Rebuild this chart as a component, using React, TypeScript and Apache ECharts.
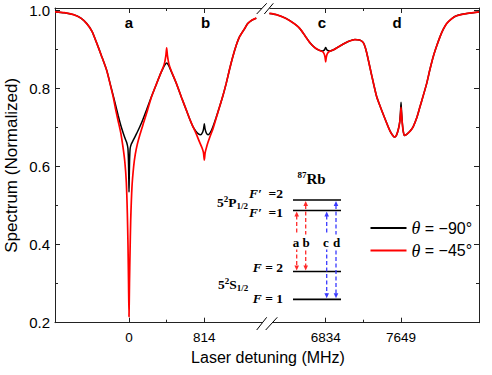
import { useEffect, useRef } from 'react';
import * as echarts from 'echarts';

// ---------- data (MHz, normalized spectrum) ----------
const blackLeft: [number, number][] = [
  [-800, 0.997], [-700, 0.995], [-600, 0.99], [-520, 0.981], [-457, 0.967], [-400, 0.947],
  [-349, 0.917], [-300, 0.886], [-241, 0.847], [-190, 0.8], [-150, 0.763], [-118, 0.732],
  [-90, 0.707], [-62, 0.686], [-40, 0.671], [-25, 0.662], [-12, 0.648], [-6, 0.615],
  [-2, 0.565], [0, 0.535], [2, 0.565], [6, 0.615], [12, 0.646], [25, 0.658], [46, 0.668],
  [80, 0.684], [118, 0.703], [150, 0.721], [190, 0.746], [240, 0.778], [298, 0.813],
  [340, 0.838], [369, 0.853], [390, 0.862], [407, 0.866], [425, 0.861], [450, 0.848],
  [513, 0.813], [570, 0.776], [620, 0.745], [660, 0.72], [691, 0.703], [720, 0.692],
  [750, 0.684], [775, 0.682], [795, 0.688], [806, 0.697], [814, 0.71], [822, 0.697],
  [835, 0.687], [855, 0.682], [880, 0.688], [906, 0.702], [940, 0.725], [978, 0.753],
  [1015, 0.782], [1050, 0.813], [1085, 0.848], [1122, 0.882], [1160, 0.912], [1194, 0.933],
  [1247, 0.953], [1283, 0.967], [1330, 0.976], [1376, 0.981],
];
const redLeft: [number, number][] = [
  [-800, 0.997], [-700, 0.995], [-600, 0.99], [-520, 0.981], [-457, 0.967], [-400, 0.947],
  [-349, 0.917], [-300, 0.886], [-241, 0.847], [-200, 0.808], [-170, 0.778], [-147, 0.75],
  [-118, 0.718], [-90, 0.688], [-65, 0.65], [-45, 0.612], [-29, 0.56], [-18, 0.48],
  [-11, 0.4], [-5, 0.3], [0, 0.215], [5, 0.3], [11, 0.38], [18, 0.46], [32, 0.548],
  [50, 0.6], [68, 0.632], [90, 0.658], [120, 0.684], [161, 0.715], [200, 0.745],
  [240, 0.777], [298, 0.813], [340, 0.838], [369, 0.855], [385, 0.867], [398, 0.884],
  [407, 0.905], [416, 0.884], [430, 0.865], [450, 0.85], [513, 0.813], [570, 0.776],
  [620, 0.745], [660, 0.72], [691, 0.703], [720, 0.688], [763, 0.663], [790, 0.648],
  [805, 0.636], [814, 0.617], [823, 0.636], [838, 0.65], [853, 0.662], [880, 0.68],
  [907, 0.697], [940, 0.723], [978, 0.753], [1015, 0.782], [1050, 0.813], [1085, 0.848],
  [1122, 0.882], [1160, 0.912], [1194, 0.933], [1247, 0.953], [1283, 0.967], [1330, 0.976],
  [1376, 0.981],
];
const blackRight: [number, number][] = [
  [6226, 0.993], [6300, 0.99], [6400, 0.981], [6500, 0.966], [6556, 0.954], [6610, 0.936],
  [6664, 0.918], [6718, 0.905], [6760, 0.899], [6800, 0.897], [6818, 0.899], [6828, 0.903],
  [6834, 0.906], [6840, 0.903], [6850, 0.899], [6880, 0.897], [6920, 0.9], [6970, 0.907],
  [7020, 0.914], [7078, 0.921], [7150, 0.926], [7200, 0.925], [7230, 0.921], [7250, 0.914],
  [7277, 0.893], [7331, 0.835], [7385, 0.78], [7439, 0.745], [7497, 0.71], [7529, 0.692],
  [7560, 0.68], [7580, 0.676], [7600, 0.681], [7620, 0.696], [7635, 0.716], [7643, 0.74],
  [7649, 0.765], [7655, 0.74], [7663, 0.712], [7672, 0.692], [7685, 0.68], [7710, 0.683],
  [7750, 0.692], [7781, 0.703], [7820, 0.726], [7853, 0.753], [7890, 0.783], [7926, 0.813],
  [7960, 0.848], [7997, 0.882], [8035, 0.91], [8070, 0.933], [8105, 0.952], [8142, 0.967],
  [8200, 0.98], [8250, 0.987], [8340, 0.992], [8430, 0.995], [8492, 0.997],
];
const redRight: [number, number][] = [
  [6226, 0.993], [6300, 0.99], [6400, 0.981], [6500, 0.966], [6556, 0.954], [6610, 0.936],
  [6664, 0.918], [6718, 0.905], [6760, 0.899], [6800, 0.895], [6818, 0.889], [6828, 0.88],
  [6834, 0.869], [6840, 0.88], [6850, 0.889], [6870, 0.895], [6920, 0.9], [6970, 0.907],
  [7020, 0.914], [7078, 0.921], [7150, 0.926], [7200, 0.925], [7230, 0.921], [7250, 0.914],
  [7277, 0.893], [7331, 0.835], [7385, 0.78], [7439, 0.745], [7497, 0.71], [7529, 0.692],
  [7560, 0.68], [7580, 0.676], [7600, 0.681], [7620, 0.696], [7635, 0.714], [7643, 0.733],
  [7649, 0.752], [7655, 0.733], [7663, 0.71], [7672, 0.692], [7685, 0.68], [7710, 0.683],
  [7750, 0.692], [7781, 0.703], [7820, 0.726], [7853, 0.753], [7890, 0.783], [7926, 0.813],
  [7960, 0.848], [7997, 0.882], [8035, 0.91], [8070, 0.933], [8105, 0.952], [8142, 0.967],
  [8200, 0.98], [8250, 0.987], [8340, 0.992], [8430, 0.995], [8492, 0.997],
];

const seriesNames = ['θ = −90°', 'θ = −45°'];
const leftMajorTicks = [0, 814];
const leftMinorTicks = [407];
const rightMajorTicks = [6834, 7649];
const rightMinorTicks = [7241.5];
const peakLabels = ['a', 'b', 'c', 'd'];
const transitionLabels = ['a', 'b', 'c', 'd'];

const SANS = '"Liberation Sans", Arial, Helvetica, sans-serif';
const SERIF = '"Liberation Serif", "Times New Roman", serif';
const AXIS_COLOR = '#222';

export default function App() {
  const ref = useRef<HTMLDivElement>(null);
  useEffect(() => {
    if (!ref.current) return;
    const chart = echarts.init(ref.current, undefined, { renderer: 'svg' });

    const top = 8;
    const bottom = 52.3;
    const yCommon = {
      type: 'value' as const,
      min: 0.2,
      max: 1.007,
      interval: 0.2,
      splitLine: { show: false },
      axisLine: { show: true, onZero: false, lineStyle: { color: AXIS_COLOR, width: 1 } },
      axisTick: { show: true, inside: true, length: 5, lineStyle: { color: AXIS_COLOR } },
      minorTick: { show: true, splitNumber: 2, length: 3, lineStyle: { color: AXIS_COLOR } },
    };
    const yLabelFmt = (v: number) =>
      Math.abs(v * 5 - Math.round(v * 5)) < 0.01 ? v.toFixed(1) : '';

    const xAxisBase = (gridIndex: number, position: 'top' | 'bottom', min: number, max: number,
      ticks: number[], length: number, labels: boolean, line: boolean) => ({
      type: 'value' as const,
      gridIndex,
      position,
      min,
      max,
      splitLine: { show: false },
      axisLine: { show: line, onZero: false, lineStyle: { color: AXIS_COLOR, width: 1 } },
      axisTick: { show: true, inside: true, length, customValues: ticks, lineStyle: { color: AXIS_COLOR } },
      axisLabel: labels
        ? { show: true, customValues: ticks, color: '#000', fontSize: 13.5, fontFamily: SANS, margin: 8, formatter: (v: number) => String(v) }
        : { show: false },
    });

    const L0 = -800, L1 = 1470, R0 = 6178, R1 = 8492;

    // Inset geometry
    const lvlX1 = 293, lvlX2 = 341;
    const yFp2 = 200, yFp1 = 210.5, yF2 = 271.5, yF1 = 299.3;
    const red = '#ff2a2a', blue = '#3a3aff';
    const arrows = [
      { x: 296.7, y1: yFp1, y2: yF2, c: red },
      { x: 305.7, y1: yFp2, y2: yF2, c: red },
      { x: 326.7, y1: yFp1, y2: yF1, c: blue },
      { x: 336, y1: yFp2, y2: yF1, c: blue },
    ];
    const graphics: any[] = [];
    // axis break marks
    graphics.push({ type: 'rect', shape: { x: 262, y: 6, width: 7.5, height: 5 }, style: { fill: '#fff' }, z: 100 });
    graphics.push({ type: 'rect', shape: { x: 262.4, y: 320.5, width: 10, height: 5 }, style: { fill: '#fff' }, z: 100 });
    const slash = (x1: number, y1: number, x2: number, y2: number) => ({
      type: 'line', shape: { x1, y1, x2, y2 }, style: { stroke: '#000', lineWidth: 1 }, z: 101,
    });
    graphics.push(slash(256.7, 14, 266.7, 3.3), slash(264.3, 14, 273.3, 3.3));
    graphics.push(slash(256.7, 330, 266.7, 317.3), slash(265.7, 330, 277.3, 317.3));
    // peak labels
    const peakX = [129, 205.5, 322, 397];
    peakLabels.forEach((t, i) => {
      graphics.push({ type: 'text', x: peakX[i], y: 22, style: { text: t, font: `bold 15px ${SANS}`, fill: '#000', align: 'center', verticalAlign: 'middle' }, z: 50 });
    });
    // x axis name
    graphics.push({ type: 'text', x: 268, y: 357, style: { text: 'Laser detuning (MHz)', font: `16px ${SANS}`, fill: '#000', align: 'center', verticalAlign: 'middle' }, z: 50 });
    // levels
    [yFp2, yFp1, yF2, yF1].forEach((y) => {
      graphics.push({ type: 'line', shape: { x1: lvlX1, y1: y, x2: lvlX2, y2: y }, style: { stroke: '#000', lineWidth: 1.7 }, z: 60 });
    });
    // arrows
    arrows.forEach((a) => {
      graphics.push({ type: 'line', shape: { x1: a.x, y1: a.y1 + 5, x2: a.x, y2: a.y2 - 5 }, style: { stroke: a.c, lineWidth: 1.3, lineDash: [4, 2.5] }, z: 61 });
      graphics.push({ type: 'polygon', shape: { points: [[a.x, a.y1 + 1], [a.x - 2.3, a.y1 + 6], [a.x + 2.3, a.y1 + 6]] }, style: { fill: a.c }, z: 62 });
      graphics.push({ type: 'polygon', shape: { points: [[a.x, a.y2 - 1], [a.x - 2.3, a.y2 - 6], [a.x + 2.3, a.y2 - 6]] }, style: { fill: a.c }, z: 62 });
    });
    const tlX = [296, 306, 326, 336.5];
    transitionLabels.forEach((t, i) => {
      graphics.push({ type: 'text', x: tlX[i], y: 242, style: { text: t, font: `bold 13px ${SERIF}`, fill: '#000', align: 'center', verticalAlign: 'middle', backgroundColor: '#fff', padding: [1, 0] }, z: 63 });
    });
    const richSerif = {
      b: { fontFamily: SERIF, fontWeight: 'bold', fontSize: 13.5, color: '#000', lineHeight: 16, verticalAlign: 'middle' },
      sup: { fontFamily: SERIF, fontWeight: 'bold', fontSize: 9, color: '#000', lineHeight: 16, verticalAlign: 'top' },
      sub: { fontFamily: SERIF, fontWeight: 'bold', fontSize: 9, color: '#000', lineHeight: 16, verticalAlign: 'bottom' },
      it: { fontFamily: SERIF, fontWeight: 'bold', fontStyle: 'italic', fontSize: 13.5, color: '#000', lineHeight: 16, verticalAlign: 'middle' },
      big: { fontFamily: SERIF, fontWeight: 'bold', fontSize: 15, color: '#000', lineHeight: 16, verticalAlign: 'middle' },
    };
    const rtext = (x: number, y: number, text: string, align: string = 'left') => ({
      type: 'text', x, y, style: { text, rich: richSerif, align, verticalAlign: 'middle' }, z: 64,
    });
    graphics.push(rtext(297.5, 178.5, '{sup|87}{big|Rb}'));
    graphics.push(rtext(283, 193.5, '{it|F′ }{b| =2}', 'right'));
    graphics.push(rtext(217, 202.5, '{b|5}{sup|2}{b|P}{sub|1/2}'));
    graphics.push(rtext(283, 212, '{it|F′ }{b| =1}', 'right'));
    graphics.push(rtext(283, 267.5, '{it|F}{b| = 2}', 'right'));
    graphics.push(rtext(218, 284, '{b|5}{sup|2}{b|S}{sub|1/2}'));
    graphics.push(rtext(283, 298.5, '{it|F}{b| = 1}', 'right'));

    const lineSeries = (name: string, data: [number, number][], gi: number, color: string, width: number, z: number) => ({
      type: 'line' as const,
      name,
      data,
      xAxisIndex: gi === 0 ? 0 : 4,
      yAxisIndex: gi,
      showSymbol: false,
      symbol: 'none',
      smooth: 0.2,
      lineStyle: { color, width },
      itemStyle: { color },
      z,
    });

    chart.setOption({
      animation: false,
      backgroundColor: '#fff',
      grid: [
        { left: 55, top, bottom, width: 210 },
        { left: 265, top, bottom, width: 214 },
      ],
      xAxis: [
        xAxisBase(0, 'bottom', L0, L1, leftMajorTicks, 5, true, true),
        xAxisBase(0, 'bottom', L0, L1, leftMinorTicks, 3, false, false),
        xAxisBase(0, 'top', L0, L1, leftMajorTicks, 5, false, true),
        xAxisBase(0, 'top', L0, L1, leftMinorTicks, 3, false, false),
        xAxisBase(1, 'bottom', R0, R1, rightMajorTicks, 5, true, true),
        xAxisBase(1, 'bottom', R0, R1, rightMinorTicks, 3, false, false),
        xAxisBase(1, 'top', R0, R1, rightMajorTicks, 5, false, true),
        xAxisBase(1, 'top', R0, R1, rightMinorTicks, 3, false, false),
      ],
      yAxis: [
        {
          ...yCommon,
          gridIndex: 0,
          position: 'left',
          name: 'Spectrum (Normalized)',
          nameLocation: 'middle',
          nameGap: 35,
          nameTextStyle: { fontSize: 17, color: '#000', fontFamily: SANS },
          axisLabel: { show: true, color: '#000', fontSize: 15, fontFamily: SANS, margin: 5, formatter: yLabelFmt },
        },
        {
          ...yCommon,
          gridIndex: 1,
          position: 'right',
          axisLabel: { show: false },
        },
      ],
      legend: {
        data: seriesNames.map((n) => ({ name: n, icon: 'rect' })),
        orient: 'vertical',
        left: 370.5,
        top: 219,
        padding: 0,
        itemWidth: 36,
        itemHeight: 1.8,
        itemGap: 4.5,
        formatter: (name: string) => `{i|θ}{n|${name.slice(1)}}`,
        textStyle: {
          color: '#000',
          fontSize: 16,
          fontFamily: SANS,
          lineHeight: 18,
          rich: {
            i: { fontFamily: SERIF, fontStyle: 'italic', fontSize: 18, lineHeight: 18, color: '#000' },
            n: { fontFamily: SANS, fontSize: 16, lineHeight: 18, color: '#000' },
          },
        },
      },
      series: [
        lineSeries(seriesNames[0], blackLeft, 0, '#000', 1.5, 2),
        lineSeries(seriesNames[0], blackRight, 1, '#000', 1.5, 2),
        lineSeries(seriesNames[1], redLeft, 0, '#ff0000', 1.7, 3),
        lineSeries(seriesNames[1], redRight, 1, '#ff0000', 1.7, 3),
      ],
      graphic: graphics,
    });
    return () => chart.dispose();
  }, []);
  return <div ref={ref} style={{ position: 'fixed', left: 0, top: 0, width: 492, height: 375 }} />;
}
